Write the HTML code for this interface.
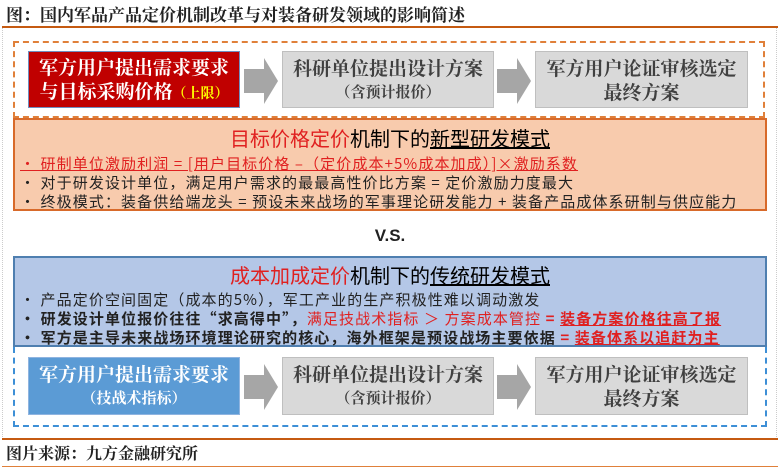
<!DOCTYPE html>
<html><head><meta charset="utf-8"><style>
body{margin:0;width:780px;height:469px;background:#fff;font-family:"Liberation Sans","Noto Serif CJK SC","Noto Sans CJK SC",serif;position:relative;overflow:hidden}
.a{position:absolute}
.box{position:absolute;display:flex;flex-direction:column;align-items:center;justify-content:center;text-align:center;font-size:19px;line-height:24px;box-sizing:border-box}
.g{background:#d9d9d9;border:1px solid #bfbfbf;color:#404040;font-family:"Noto Serif CJK SC",serif;font-weight:bold}
.arr{position:absolute;width:0;height:0;border-top:23px solid transparent;border-bottom:23px solid transparent;border-left:14px solid #a6a6a6}
.ab{position:absolute;background:#a6a6a6;width:20px;height:24px}
.ln{position:absolute;left:20px;font-size:15px;letter-spacing:1.1px;white-space:nowrap;font-family:"Noto Sans CJK SC",sans-serif;color:#222}
.sm{font-size:15px}
.tt{position:absolute;left:0;width:100%;text-align:center;font-size:20px;font-family:'Noto Sans CJK SC',sans-serif}
</style></head><body>
<div class="a" style="left:0;top:0;width:780px;height:27px;font-size:17px;line-height:27px;padding-left:6px;font-family:'Noto Serif CJK SC',serif;font-weight:bold;color:#222">图：国内军品产品定价机制改革与对装备研发领域的影响简述</div>
<div class="a" style="left:2px;top:26px;width:776px;height:2px;background:#c55a11"></div>
<div class="a" style="left:2px;top:28px;width:773px;height:410px;border:1px dotted #ccc;border-top:none"></div>

<div class="a" style="left:13px;top:41px;width:752px;height:77px;border:2px dashed #e0803a;box-sizing:border-box"></div>
<div class="box" style="left:28px;top:51px;width:212px;height:57px;background:#c00000;border:1px solid #6f8ebf;color:#fff;font-family:'Noto Serif CJK SC',serif;font-weight:bold"><div>军方用户提出需求要求</div><div>与目标采购价格<span style="color:#ff0;font-size:14px">（上限）</span></div></div>
<div class="ab" style="left:244px;top:69px"></div><div class="arr" style="left:264px;top:58px"></div>
<div class="box g" style="left:282px;top:51px;width:212px;height:57px"><div>科研单位提出设计方案</div><div class="sm">（含预计报价）</div></div>
<div class="ab" style="left:497px;top:69px"></div><div class="arr" style="left:517px;top:58px"></div>
<div class="box g" style="left:535px;top:51px;width:213px;height:57px"><div>军方用户论证审核选定</div><div>最终方案</div></div>

<div class="a" style="left:13px;top:118px;width:754px;height:93px;background:#f8cbad;border:2px solid #d86a2a;box-sizing:border-box">
<div class="tt" style="top:3px"><span style="color:#e02020">目标价格定价</span>机制下的<u>新型研发模式</u></div>
<div class="ln" style="left:5px;top:33px;color:#e02020"><u>• 研制单位激励利润 = [用户目标价格 –（定价成本+5%成本加成）]×激励系数</u></div>
<div class="ln" style="left:5px;top:52px">• 对于研发设计单位，满足用户需求的最最高性价比方案 = 定价激励力度最大</div>
<div class="ln" style="left:5px;top:71px">• 终极模式：装备供给端龙头 = 预设未来战场的军事理论研发能力 + 装备产品成体系研制与供应能力</div>
</div>

<div class="a" style="left:0;width:780px;top:226px;text-align:center;font-size:17px;font-weight:bold;color:#222">V.S.</div>

<div class="a" style="left:13px;top:256px;width:754px;height:91px;background:#b4c7e7;border:2px solid #4f7fb0;box-sizing:border-box">
<div class="tt" style="top:2px"><span style="color:#e02020">成本加成定价</span>机制下的<u>传统研发模式</u></div>
<div class="ln" style="left:5px;top:31px">• 产品定价空间固定（成本的5%），军工产业的生产积极性难以调动激发</div>
<div class="ln" style="left:5px;top:50px;font-weight:bold">• 研发设计单位报价往往“求高得中”，<span style="color:#e02020;font-weight:normal">满足技战术指标 ＞ 方案成本管控</span><span style="color:#e02020"> = <u>装备方案价格往高了报</u></span></div>
<div class="ln" style="left:5px;top:69px;font-weight:bold">• 军方是主导未来战场环境理论研究的核心，海外框架是预设战场主要依据 <span style="color:#e02020"> = <u>装备体系以追赶为主</u></span></div>
</div>

<div class="a" style="left:13px;top:347px;width:754px;height:80px;border:2px dashed #3d8fd6;border-top:none;box-sizing:border-box"></div>
<div class="box" style="left:28px;top:357px;width:212px;height:58px;background:#5b9bd5;border:1px solid #8fb4e0;color:#fff;font-family:'Noto Serif CJK SC',serif;font-weight:bold"><div>军方用户提出需求要求</div><div class="sm">（技战术指标）</div></div>
<div class="ab" style="left:244px;top:375px"></div><div class="arr" style="left:264px;top:364px"></div>
<div class="box g" style="left:282px;top:357px;width:212px;height:58px"><div>科研单位提出设计方案</div><div class="sm">（含预计报价）</div></div>
<div class="ab" style="left:497px;top:375px"></div><div class="arr" style="left:517px;top:364px"></div>
<div class="box g" style="left:535px;top:357px;width:213px;height:58px"><div>军方用户论证审核选定</div><div>最终方案</div></div>

<div class="a" style="left:2px;top:438px;width:776px;height:2px;background:#c55a11"></div>
<div class="a" style="left:6px;top:441px;font-size:16px;line-height:24px;font-family:'Noto Serif CJK SC',serif;font-weight:bold;color:#222">图片来源：九方金融研究所</div>
<div class="a" style="left:2px;top:466px;width:776px;height:1px;background:#e0803a"></div>
</body></html>
